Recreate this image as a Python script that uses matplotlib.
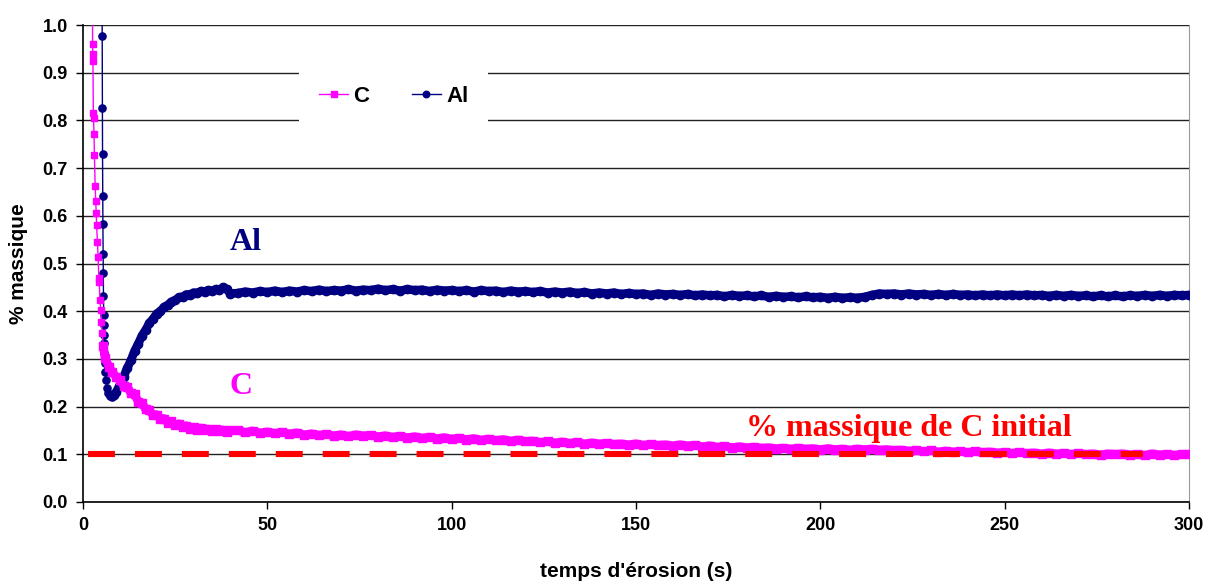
import matplotlib
matplotlib.use("Agg")
import matplotlib.pyplot as plt
import numpy as np

# ---------------------------------------------------------------- data
# start of erosion: sub-second sampling
c_t_start = [2.55, 2.6, 2.65, 2.7, 2.8, 2.85, 3.0, 3.1, 3.3, 3.45, 3.6, 3.7, 3.9, 4.1,
             4.3, 4.4, 4.6, 4.8, 5.0, 5.2, 5.5]
c_v_start = [1.15, 0.960, 0.940, 0.925, 0.815, 0.805, 0.771, 0.727, 0.663, 0.630, 0.605,
             0.580, 0.546, 0.514, 0.469, 0.462, 0.423, 0.403, 0.378, 0.354, 0.326]
al_t_start = [5.15, 5.2, 5.25, 5.3, 5.35, 5.4, 5.45, 5.5, 5.55, 5.6, 5.65, 5.7, 5.75,
              5.8, 5.9, 6.0, 6.2, 6.5, 6.9, 7.4, 7.9, 8.4, 9.0]
al_v_start = [1.15, 0.977, 0.827, 0.730, 0.642, 0.582, 0.520, 0.481, 0.432, 0.392, 0.371,
              0.350, 0.334, 0.312, 0.291, 0.273, 0.255, 0.240, 0.228, 0.222, 0.221,
              0.224, 0.230]

# 1 s steps
c_t_1s = list(range(6, 41))
c_v_1s = [0.302, 0.284, 0.272, 0.262, 0.256, 0.244, 0.242, 0.228, 0.226, 0.210,
          0.208, 0.194, 0.192, 0.182, 0.183, 0.174, 0.175, 0.166, 0.169, 0.161,
          0.164, 0.157, 0.160, 0.153, 0.157, 0.151, 0.155, 0.150, 0.153, 0.149,
          0.152, 0.148, 0.151, 0.147, 0.150]
al_t_1s = list(range(10, 41))
al_v_1s = [0.246, 0.262, 0.281, 0.297, 0.317, 0.332, 0.349, 0.361, 0.375, 0.384,
           0.395, 0.400, 0.409, 0.413, 0.420, 0.423, 0.429, 0.430, 0.435, 0.435,
           0.439, 0.438, 0.442, 0.441, 0.444, 0.442, 0.446, 0.445, 0.450, 0.446,
           0.437]

# 2 s steps, 42 .. 300 s
t_2s = list(range(42, 301, 2))
c_v_2s = [0.150, 0.146, 0.149, 0.145, 0.147, 0.144, 0.146, 0.143, 0.145, 0.141,
          0.143, 0.140, 0.142, 0.139, 0.141, 0.138, 0.141, 0.139, 0.140, 0.137,
          0.139, 0.136, 0.138, 0.135, 0.137, 0.134, 0.136, 0.133, 0.135, 0.132,
          0.134, 0.131, 0.133, 0.130, 0.132, 0.129, 0.131, 0.128, 0.130, 0.127,
          0.128, 0.125, 0.127, 0.124, 0.126, 0.123, 0.125, 0.122, 0.124, 0.122,
          0.123, 0.121, 0.122, 0.120, 0.122, 0.119, 0.121, 0.119, 0.120, 0.118,
          0.120, 0.118, 0.119, 0.116, 0.118, 0.115, 0.117, 0.114, 0.116, 0.114,
          0.115, 0.113, 0.114, 0.112, 0.113, 0.111, 0.113, 0.111, 0.112, 0.110,
          0.112, 0.110, 0.111, 0.109, 0.111, 0.110, 0.111, 0.109, 0.110, 0.108,
          0.109, 0.107, 0.108, 0.106, 0.108, 0.105, 0.107, 0.105, 0.106, 0.104,
          0.106, 0.104, 0.105, 0.103, 0.104, 0.102, 0.104, 0.102, 0.103, 0.101,
          0.103, 0.101, 0.102, 0.100, 0.102, 0.100, 0.101, 0.099, 0.101, 0.100,
          0.101, 0.099, 0.100, 0.098, 0.101, 0.099, 0.100, 0.098, 0.100, 0.100]
al_v_2s = [0.438, 0.441, 0.439, 0.442, 0.440, 0.443, 0.440, 0.443, 0.441, 0.444,
           0.442, 0.445, 0.442, 0.444, 0.443, 0.446, 0.443, 0.445, 0.444, 0.447,
           0.444, 0.446, 0.443, 0.446, 0.444, 0.445, 0.442, 0.445, 0.443, 0.444,
           0.442, 0.444, 0.441, 0.444, 0.442, 0.443, 0.440, 0.443, 0.441, 0.442,
           0.440, 0.442, 0.439, 0.441, 0.439, 0.441, 0.438, 0.440, 0.437, 0.439,
           0.437, 0.439, 0.436, 0.438, 0.436, 0.437, 0.434, 0.437, 0.435, 0.436,
           0.434, 0.436, 0.433, 0.435, 0.433, 0.434, 0.431, 0.434, 0.432, 0.433,
           0.431, 0.433, 0.430, 0.432, 0.430, 0.431, 0.429, 0.431, 0.429, 0.430,
           0.428, 0.430, 0.428, 0.429, 0.428, 0.430, 0.434, 0.437, 0.436, 0.437,
           0.435, 0.437, 0.435, 0.436, 0.434, 0.436, 0.434, 0.436, 0.434, 0.435,
           0.433, 0.435, 0.433, 0.435, 0.433, 0.435, 0.433, 0.435, 0.433, 0.434,
           0.432, 0.434, 0.432, 0.434, 0.432, 0.433, 0.431, 0.433, 0.431, 0.433,
           0.431, 0.433, 0.432, 0.434, 0.432, 0.434, 0.432, 0.434, 0.433, 0.434]

c_t = c_t_start + c_t_1s + t_2s
c_v = c_v_start + c_v_1s + c_v_2s
al_t = al_t_start + al_t_1s + t_2s
al_v = al_v_start + al_v_1s + al_v_2s

ref_t = [1.44, 287.4]          # initial C mass fraction reference
ref_v = [0.1, 0.1]

MAGENTA = "#ff00ff"
NAVY = "#000080"
RED = "#ff0000"

plt.rcParams["font.family"] = ["Liberation Sans", "DejaVu Sans"]
plt.rcParams["lines.scale_dashes"] = False

fig = plt.figure(figsize=(12.06, 5.81), dpi=100)
ax = fig.add_axes([83 / 1206, 1 - 502 / 581, 1106 / 1206, 477 / 581])

ax.set_axisbelow(True)
ax.yaxis.grid(True, color="#222222", lw=1.0)

# dense-sampling part: markers merge into a thick band
n_al = len(al_t_start) - 2
n_c = len(c_t_start) - 1
ax.plot(al_t[n_al:], al_v[n_al:], "o", color=NAVY, ms=6.0, zorder=3)
ax.plot(al_t[n_al:], al_v[n_al:], "-", color=NAVY, lw=6.2, solid_capstyle="round",
        solid_joinstyle="round", zorder=3)
ax.plot(c_t[n_c:], c_v[n_c:], "s", color=MAGENTA, ms=5.6, zorder=4)
ax.plot(c_t[n_c:], c_v[n_c:], "-", color=MAGENTA, lw=6.2, solid_capstyle="round",
        solid_joinstyle="round", zorder=4)

l_al, = ax.plot(al_t, al_v, "-o", color=NAVY, lw=1.0, ms=5.2, mec=NAVY, mfc=NAVY,
                label="Al", zorder=3)
l_c, = ax.plot(c_t, c_v, "-s", color=MAGENTA, lw=1.0, ms=4.6, mec=MAGENTA, mfc=MAGENTA,
               label="C", zorder=4)
ax.plot(ref_t, ref_v, color=RED, lw=4.4, dashes=(19.4, 14.4), solid_capstyle="butt",
        dash_capstyle="butt", zorder=5)

ax.set_xlim(0, 300)
ax.set_ylim(0, 1.0)
ax.set_xticks(np.arange(0, 301, 50))
ax.set_yticks(np.arange(0, 1.01, 0.1))
ax.set_yticklabels([f"{v:.1f}" for v in np.arange(0, 1.01, 0.1)])
ax.tick_params(axis="both", direction="out", length=5, width=1, labelsize=13, pad=6)
for lab in ax.get_xticklabels() + ax.get_yticklabels():
    lab.set_fontweight("bold")

ax.spines["top"].set_visible(False)
ax.spines["right"].set_color("#999999")
ax.spines["left"].set_color("black")
ax.spines["bottom"].set_color("black")
ax.spines["left"].set_linewidth(1.2)
ax.spines["bottom"].set_linewidth(1.2)

ax.set_xlabel("temps d'érosion (s)", fontsize=15, fontweight="bold", labelpad=20)
ax.set_ylabel("% massique", fontsize=15, fontweight="bold", labelpad=10)

serif = ["Liberation Serif", "DejaVu Serif"]
ax.text(44.2, 0.543, "Al", color=NAVY, fontsize=23, fontweight="bold", family=serif,
        ha="center", va="center")
ax.text(42.9, 0.243, "C", color=MAGENTA, fontsize=23, fontweight="bold", family=serif,
        ha="center", va="center")
ax.text(224, 0.155, "% massique de C initial", color=RED, fontsize=23,
        fontweight="bold", family=serif, ha="center", va="center")

leg = ax.legend([l_c, l_al], ["C", "Al"], ncol=2, loc="center",
                bbox_to_anchor=(0.281, 0.851), frameon=True, fancybox=False,
                edgecolor="none", facecolor="white", framealpha=1,
                prop={"weight": "bold", "size": 16}, handlelength=1.3,
                handletextpad=0.25, columnspacing=1.9, borderpad=0.9, markerscale=0.9)
leg.set_zorder(6)

fig.savefig("out.png", dpi=100)
plt.close(fig)
